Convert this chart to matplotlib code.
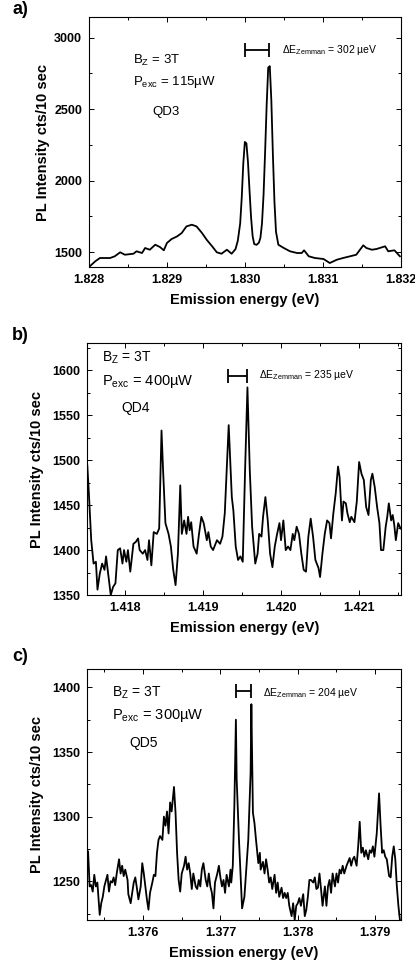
import matplotlib
matplotlib.use("Agg")
import matplotlib.pyplot as plt
from matplotlib.ticker import MultipleLocator, FormatStrFormatter

plt.rcParams['font.family'] = ['Liberation Sans', 'DejaVu Sans']
plt.rcParams['mathtext.fontset'] = 'custom'
plt.rcParams['mathtext.rm'] = 'Liberation Sans'
plt.rcParams['mathtext.it'] = 'Liberation Sans'

# ---- data ----
# a) QD3
qd3_energy = [1.82801, 1.82808, 1.82814, 1.82827, 1.82833, 1.82840, 1.82846, 1.82857,
              1.82861, 1.82868, 1.82872, 1.82878, 1.82885, 1.82891, 1.82896, 1.82900,
              1.82906, 1.82913, 1.82919, 1.82925, 1.82932, 1.82938, 1.82945, 1.82951,
              1.82958, 1.82964, 1.82970, 1.82977, 1.82983, 1.82988, 1.82991, 1.82994,
              1.82996, 1.82998, 1.83000, 1.83002, 1.83004, 1.83006, 1.83008, 1.83010,
              1.83012, 1.83015, 1.83018, 1.83020, 1.83022, 1.83024, 1.83026, 1.83028,
              1.83030, 1.83032, 1.83034, 1.83036, 1.83038, 1.83040, 1.83043, 1.83050,
              1.83058, 1.83067, 1.83073, 1.83076, 1.83082, 1.83090, 1.83101, 1.83109,
              1.83118, 1.83126, 1.83135, 1.83143, 1.83152, 1.83156, 1.83163, 1.83169,
              1.83180, 1.83184, 1.83192, 1.83199]
qd3_counts = [1400, 1435, 1458, 1458, 1470, 1498, 1481, 1488,
              1505, 1493, 1528, 1516, 1551, 1535, 1512, 1563,
              1591, 1609, 1633, 1679, 1691, 1679, 1633, 1586,
              1540, 1498, 1488, 1516, 1488, 1520, 1580, 1700,
              1880, 2120, 2270, 2260, 2130, 1930, 1740, 1610,
              1556, 1550, 1565, 1600, 1700, 1900, 2200, 2530,
              2790, 2800, 2560, 2180, 1850, 1640, 1551, 1528,
              1505, 1493, 1493, 1512, 1470, 1458, 1451, 1423,
              1446, 1458, 1470, 1481, 1547, 1528, 1516, 1521,
              1540, 1505, 1512, 1470]

# b) QD4
qd4_energy = [1.41752, 1.41754, 1.41757, 1.41760, 1.41763, 1.41765, 1.41768, 1.41771,
              1.41774, 1.41776, 1.41779, 1.41782, 1.41785, 1.41788, 1.41791, 1.41794,
              1.41797, 1.41799, 1.41802, 1.41804, 1.41807, 1.41811, 1.41814, 1.41817,
              1.41819, 1.41823, 1.41826, 1.41829, 1.41831, 1.41834, 1.41837, 1.41841,
              1.41844, 1.41847, 1.41849, 1.41852, 1.41856, 1.41859, 1.41862, 1.41865,
              1.41868, 1.41871, 1.41873, 1.41876, 1.41879, 1.41881, 1.41883, 1.41885,
              1.41888, 1.41892, 1.41895, 1.41898, 1.41901, 1.41905, 1.41907, 1.41910,
              1.41913, 1.41918, 1.41922, 1.41925, 1.41928, 1.41933, 1.41937, 1.41939,
              1.41942, 1.41945, 1.41948, 1.41951, 1.41954, 1.41957, 1.41960, 1.41963,
              1.41967, 1.41970, 1.41972, 1.41975, 1.41977, 1.41980, 1.41983, 1.41986,
              1.41989, 1.41992, 1.41995, 1.41998, 1.42000, 1.42003, 1.42006, 1.42009,
              1.42012, 1.42015, 1.42017, 1.42020, 1.42023, 1.42026, 1.42029, 1.42032,
              1.42035, 1.42038, 1.42041, 1.42044, 1.42048, 1.42050, 1.42053, 1.42056,
              1.42059, 1.42062, 1.42064, 1.42067, 1.42070, 1.42073, 1.42075, 1.42078,
              1.42080, 1.42083, 1.42085, 1.42088, 1.42090, 1.42094, 1.42097, 1.42100,
              1.42103, 1.42106, 1.42109, 1.42112, 1.42115, 1.42117, 1.42120, 1.42123,
              1.42126, 1.42128, 1.42131, 1.42134, 1.42136, 1.42138, 1.42141, 1.42143,
              1.42145, 1.42147, 1.42150, 1.42153]
qd4_counts = [1494, 1463, 1411, 1385, 1387, 1356, 1374, 1385,
              1378, 1393, 1372, 1350, 1359, 1363, 1400, 1402,
              1385, 1400, 1387, 1400, 1376, 1407, 1409, 1413,
              1400, 1396, 1400, 1389, 1411, 1383, 1420, 1418,
              1424, 1533, 1489, 1430, 1418, 1404, 1378, 1361,
              1396, 1472, 1418, 1433, 1418, 1437, 1422, 1431,
              1404, 1396, 1418, 1437, 1430, 1411, 1420, 1404,
              1400, 1411, 1407, 1415, 1441, 1539, 1459, 1444,
              1404, 1389, 1393, 1387, 1489, 1581, 1489, 1426,
              1385, 1396, 1418, 1415, 1437, 1459, 1433, 1396,
              1381, 1404, 1418, 1430, 1411, 1433, 1400, 1404,
              1400, 1418, 1411, 1426, 1418, 1396, 1378, 1376,
              1415, 1435, 1415, 1389, 1380, 1370, 1396, 1418,
              1433, 1430, 1413, 1441, 1463, 1493, 1481, 1433,
              1454, 1452, 1441, 1431, 1437, 1431, 1454, 1498,
              1485, 1478, 1448, 1439, 1478, 1485, 1470, 1448,
              1430, 1400, 1400, 1426, 1437, 1452, 1433, 1439,
              1428, 1411, 1430, 1424]

# c) QD5
qd5_energy = [1.37529, 1.37531, 1.37533, 1.37535, 1.37537, 1.37539, 1.37541, 1.37544,
              1.37546, 1.37548, 1.37550, 1.37554, 1.37556, 1.37558, 1.37560, 1.37562,
              1.37564, 1.37566, 1.37569, 1.37571, 1.37573, 1.37575, 1.37577, 1.37580,
              1.37581, 1.37584, 1.37586, 1.37588, 1.37590, 1.37592, 1.37594, 1.37597,
              1.37599, 1.37601, 1.37603, 1.37605, 1.37607, 1.37609, 1.37612, 1.37614,
              1.37616, 1.37618, 1.37620, 1.37622, 1.37625, 1.37627, 1.37629, 1.37631,
              1.37633, 1.37635, 1.37637, 1.37640, 1.37642, 1.37644, 1.37646, 1.37648,
              1.37650, 1.37653, 1.37655, 1.37657, 1.37659, 1.37661, 1.37663, 1.37665,
              1.37668, 1.37670, 1.37672, 1.37674, 1.37676, 1.37678, 1.37681, 1.37683,
              1.37685, 1.37687, 1.37689, 1.37691, 1.37693, 1.37696, 1.37698, 1.37700,
              1.37702, 1.37704, 1.37706, 1.37708, 1.37711, 1.37713, 1.37714, 1.37716,
              1.37718, 1.37720, 1.37721, 1.37724, 1.37726, 1.37728, 1.37731, 1.37733,
              1.37736, 1.37739, 1.37740, 1.37742, 1.37744, 1.37746, 1.37749, 1.37751,
              1.37752, 1.37755, 1.37757, 1.37759, 1.37761, 1.37763, 1.37765, 1.37767,
              1.37770, 1.37772, 1.37774, 1.37776, 1.37779, 1.37781, 1.37783, 1.37785,
              1.37787, 1.37789, 1.37792, 1.37794, 1.37796, 1.37798, 1.37800, 1.37802,
              1.37804, 1.37807, 1.37809, 1.37811, 1.37813, 1.37815, 1.37817, 1.37820,
              1.37822, 1.37824, 1.37826, 1.37828, 1.37830, 1.37832, 1.37835, 1.37837,
              1.37839, 1.37841, 1.37843, 1.37845, 1.37848, 1.37850, 1.37852, 1.37854,
              1.37856, 1.37858, 1.37860, 1.37863, 1.37865, 1.37867, 1.37869, 1.37871,
              1.37873, 1.37876, 1.37878, 1.37880, 1.37882, 1.37884, 1.37886, 1.37888,
              1.37891, 1.37893, 1.37895, 1.37897, 1.37899, 1.37902, 1.37905, 1.37907,
              1.37909, 1.37911, 1.37913, 1.37915, 1.37918, 1.37920, 1.37922, 1.37924,
              1.37926, 1.37928, 1.37930, 1.37932]
qd5_counts = [1273, 1246, 1247, 1242, 1255, 1246, 1249, 1224,
              1233, 1238, 1246, 1255, 1242, 1250, 1249, 1253,
              1247, 1256, 1267, 1256, 1262, 1254, 1259, 1251,
              1240, 1233, 1241, 1249, 1253, 1245, 1236, 1246,
              1264, 1256, 1246, 1236, 1228, 1241, 1249, 1255,
              1254, 1272, 1282, 1285, 1282, 1300, 1293, 1304,
              1287, 1311, 1304, 1323, 1303, 1272, 1251, 1242,
              1256, 1262, 1269, 1259, 1264, 1256, 1244, 1256,
              1246, 1244, 1251, 1246, 1259, 1264, 1251, 1246,
              1256, 1246, 1241, 1229, 1249, 1256, 1262, 1253,
              1246, 1251, 1241, 1255, 1246, 1259, 1249, 1262,
              1308, 1375, 1329, 1282, 1256, 1229, 1238, 1256,
              1282, 1334, 1387, 1303, 1295, 1282, 1264, 1272,
              1259, 1265, 1256, 1267, 1259, 1249, 1253, 1244,
              1255, 1241, 1249, 1238, 1245, 1237, 1241, 1237,
              1241, 1231, 1223, 1233, 1220, 1231, 1233, 1237,
              1231, 1240, 1223, 1228, 1238, 1251, 1251, 1249,
              1253, 1244, 1245, 1256, 1244, 1231, 1246, 1231,
              1246, 1251, 1241, 1256, 1246, 1256, 1249, 1259,
              1256, 1262, 1256, 1262, 1265, 1268, 1262, 1267,
              1269, 1262, 1277, 1296, 1272, 1276, 1269, 1274,
              1267, 1274, 1272, 1277, 1269, 1287, 1318, 1293,
              1272, 1274, 1269, 1267, 1254, 1253, 1269, 1277,
              1267, 1246, 1231, 1220]

# Zeeman splitting markers (low peak, high peak, height) and labels
zeeman_a = (1.83000, 1.83031, 2914)
zeeman_b = (1.41932, 1.41957, 1594)
zeeman_c = (1.37720, 1.37740, 1397)
split_labels = ["302", "235", "204"]
power_labels = ["115", "400", "300"]
dot_labels = ["QD3", "QD4", "QD5"]


def style_axis(ax, xlim, ylim, xmaj, ymaj):
    ax.set_xlim(*xlim)
    ax.set_ylim(*ylim)
    ax.xaxis.set_major_locator(MultipleLocator(xmaj))
    ax.xaxis.set_minor_locator(MultipleLocator(xmaj / 2))
    ax.yaxis.set_major_locator(MultipleLocator(ymaj))
    ax.yaxis.set_minor_locator(MultipleLocator(ymaj / 2))
    ax.xaxis.set_major_formatter(FormatStrFormatter('%.3f'))
    ax.tick_params(which='both', direction='in', top=True, right=True,
                   width=0.7, labelsize=9, pad=5)
    ax.tick_params(which='major', length=3.5)
    ax.tick_params(which='minor', length=2.5)
    for lbl in ax.get_xticklabels() + ax.get_yticklabels():
        lbl.set_fontweight('bold')
    for sp in ax.spines.values():
        sp.set_linewidth(0.8)
    ax.set_xlabel('Emission energy (eV)', fontsize=10.5, fontweight='bold', labelpad=5)
    ax.set_ylabel('PL Intensity cts/10 sec', fontsize=10.5, fontweight='bold')


def zeeman_bar(ax, z):
    lo, hi, h = z
    ax.errorbar([(lo + hi) / 2], [h], xerr=[(hi - lo) / 2], fmt='none',
                ecolor='black', elinewidth=1.3, capsize=5, capthick=1.3)


fig = plt.figure(figsize=(4.15, 9.71), dpi=100)

axes = [fig.add_axes([0.2145, 0.725, 0.751, 0.2572]),
        fig.add_axes([0.2104, 0.3872, 0.7566, 0.2592]),
        fig.add_axes([0.2104, 0.0525, 0.7552, 0.2582])]

# panel a
ax = axes[0]
ax.plot(qd3_energy, qd3_counts, color='black', lw=1.3)
style_axis(ax, (1.828, 1.832), (1395, 3142), 0.001, 500)
ax.yaxis.labelpad = 3
zeeman_bar(ax, zeeman_a)
ax.text(0.141, 0.829, r'$\mathregular{B_Z}$ = 3T', transform=ax.transAxes, fontsize=9.5, va='center')
ax.text(0.141, 0.741, r'$\mathregular{P_{exc}}$ = ' + power_labels[0] + 'µW', transform=ax.transAxes,
        fontsize=9.5, va='center')
ax.text(0.202, 0.621, dot_labels[0], transform=ax.transAxes, fontsize=9.5, va='center')
ax.text(0.619, 0.869, r'$\mathregular{\Delta E_{Zemman}}$ = ' + split_labels[0] + ' µeV',
        transform=ax.transAxes, fontsize=7.5, va='center')

# panel b
ax = axes[1]
ax.plot(qd4_energy, qd4_counts, color='black', lw=1.3)
style_axis(ax, (1.41752, 1.42154), (1350, 1630), 0.001, 50)
ax.yaxis.labelpad = 6
zeeman_bar(ax, zeeman_b)
ax.text(0.046, 0.942, r'$\mathregular{B_Z}$ = 3T', transform=ax.transAxes, fontsize=10, va='center')
ax.text(0.046, 0.850, r'$\mathregular{P_{exc}}$ = ' + power_labels[1] + 'µW', transform=ax.transAxes,
        fontsize=10.5, va='center')
ax.text(0.110, 0.743, dot_labels[1], transform=ax.transAxes, fontsize=10, va='center')
ax.text(0.547, 0.874, r'$\mathregular{\Delta E_{Zemman}}$ = ' + split_labels[1] + ' µeV',
        transform=ax.transAxes, fontsize=7.5, va='center')

# panel c
ax = axes[2]
ax.plot(qd5_energy, qd5_counts, color='black', lw=1.3)
style_axis(ax, (1.37528, 1.37933), (1220, 1414), 0.001, 50)
ax.yaxis.labelpad = 6
zeeman_bar(ax, zeeman_c)
ax.text(0.079, 0.905, r'$\mathregular{B_Z}$ = 3T', transform=ax.transAxes, fontsize=10, va='center')
ax.text(0.079, 0.814, r'$\mathregular{P_{exc}}$ = ' + power_labels[2] + 'µW', transform=ax.transAxes,
        fontsize=10.5, va='center')
ax.text(0.133, 0.706, dot_labels[2], transform=ax.transAxes, fontsize=10, va='center')
ax.text(0.561, 0.905, r'$\mathregular{\Delta E_{Zemman}}$ = ' + split_labels[2] + ' µeV',
        transform=ax.transAxes, fontsize=7.5, va='center')

# panel letters
for letter, ypix in zip(['a)', 'b)', 'c)'], [10, 335, 656]):
    fig.text(12 / 415, 1 - ypix / 971, letter, fontsize=13, fontweight='bold',
             ha='left', va='center')

fig.savefig('out.png', dpi=100)
